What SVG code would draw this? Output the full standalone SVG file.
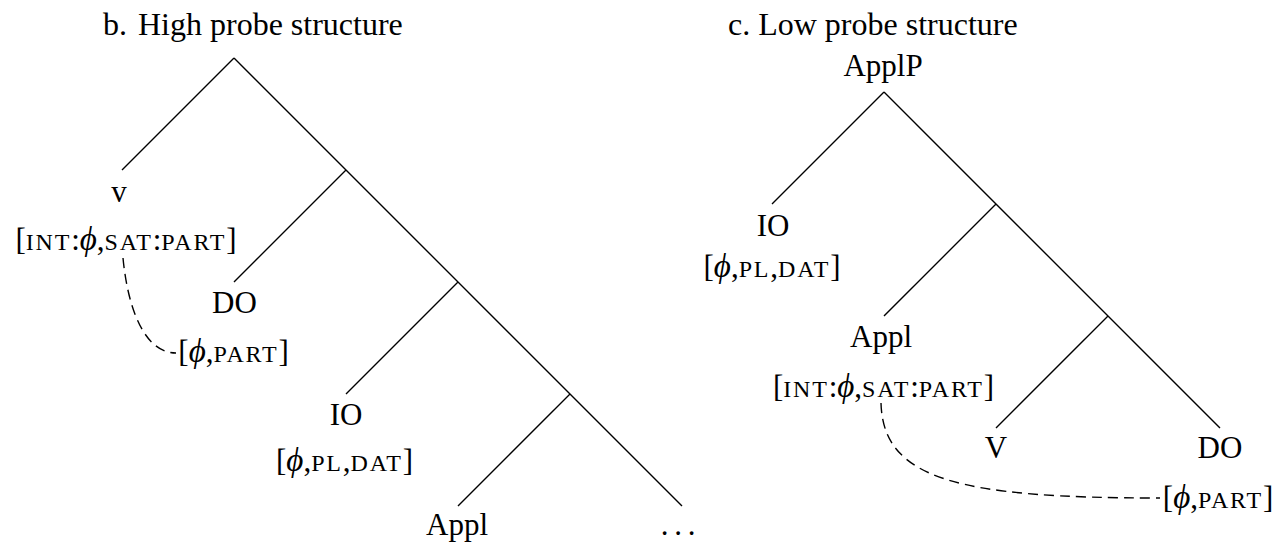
<svg xmlns="http://www.w3.org/2000/svg" width="1279" height="542" viewBox="0 0 1279 542">
<style>
text{font-family:"Liberation Serif","Times New Roman",serif;font-size:31px;fill:#000;text-anchor:middle}
.ttl{font-size:32px;text-anchor:start}
.sc{font-size:24px;letter-spacing:1.8px}
.ph{font-style:italic;font-size:33px}
.br{stroke:#000;stroke-width:1.4;fill:none;stroke-linecap:butt}
.dash{stroke:#000;stroke-width:1.4;fill:none;stroke-dasharray:10 6}
</style>
<rect width="1279" height="542" fill="#fff"/>
<g id="titles">
<text class="ttl" x="103" y="35">b.<tspan x="138">High probe structure</tspan></text>
<text class="ttl" x="728" y="35">c. Low probe structure</text>
</g>
<g id="connectors">
<path class="br" d="M234,58 L122,170 M234,58 L682,506 M346,170 L234,282 M458,282 L346,394 M570,394 L458,506"/>
<path class="br" d="M884,92 L772,204 M884,92 L1220,428 M996,204 L884,316 M1108,316 L996,428"/>
<path class="dash" d="M123,258 C128,310 145,353 176,353"/>
<path class="dash" d="M881,403 C883,480 960,498 1160,498"/>
</g>
<g id="node-v"><text x="119" y="202">v</text><text x="126" y="250">[<tspan class="sc">INT</tspan>:<tspan class="ph">ϕ</tspan>,<tspan class="sc">SAT</tspan>:<tspan class="sc">PART</tspan>]</text></g>
<g id="node-DO-left"><text x="234.5" y="313">DO</text><text x="233.5" y="362">[<tspan class="ph">ϕ</tspan>,<tspan class="sc">PART</tspan>]</text></g>
<g id="node-IO-left"><text x="346" y="425">IO</text><text x="344.5" y="471">[<tspan class="ph">ϕ</tspan>,<tspan class="sc">PL</tspan>,<tspan class="sc">DAT</tspan>]</text></g>
<g id="node-Appl-left"><text x="457" y="535">Appl</text></g>
<g id="node-dots"><text x="678" y="535" style="word-spacing:-2px">. . .</text></g>
<g id="node-ApplP"><text x="883" y="76">ApplP</text></g>
<g id="node-IO-right"><text x="773" y="236">IO</text><text x="772" y="277">[<tspan class="ph">ϕ</tspan>,<tspan class="sc">PL</tspan>,<tspan class="sc">DAT</tspan>]</text></g>
<g id="node-Appl-right"><text x="881" y="347">Appl</text><text x="883.5" y="397">[<tspan class="sc">INT</tspan>:<tspan class="ph">ϕ</tspan>,<tspan class="sc">SAT</tspan>:<tspan class="sc">PART</tspan>]</text></g>
<g id="node-V"><text x="996" y="458">V</text></g>
<g id="node-DO-right"><text x="1220" y="458">DO</text><text x="1218" y="508">[<tspan class="ph">ϕ</tspan>,<tspan class="sc">PART</tspan>]</text></g>
</svg>
